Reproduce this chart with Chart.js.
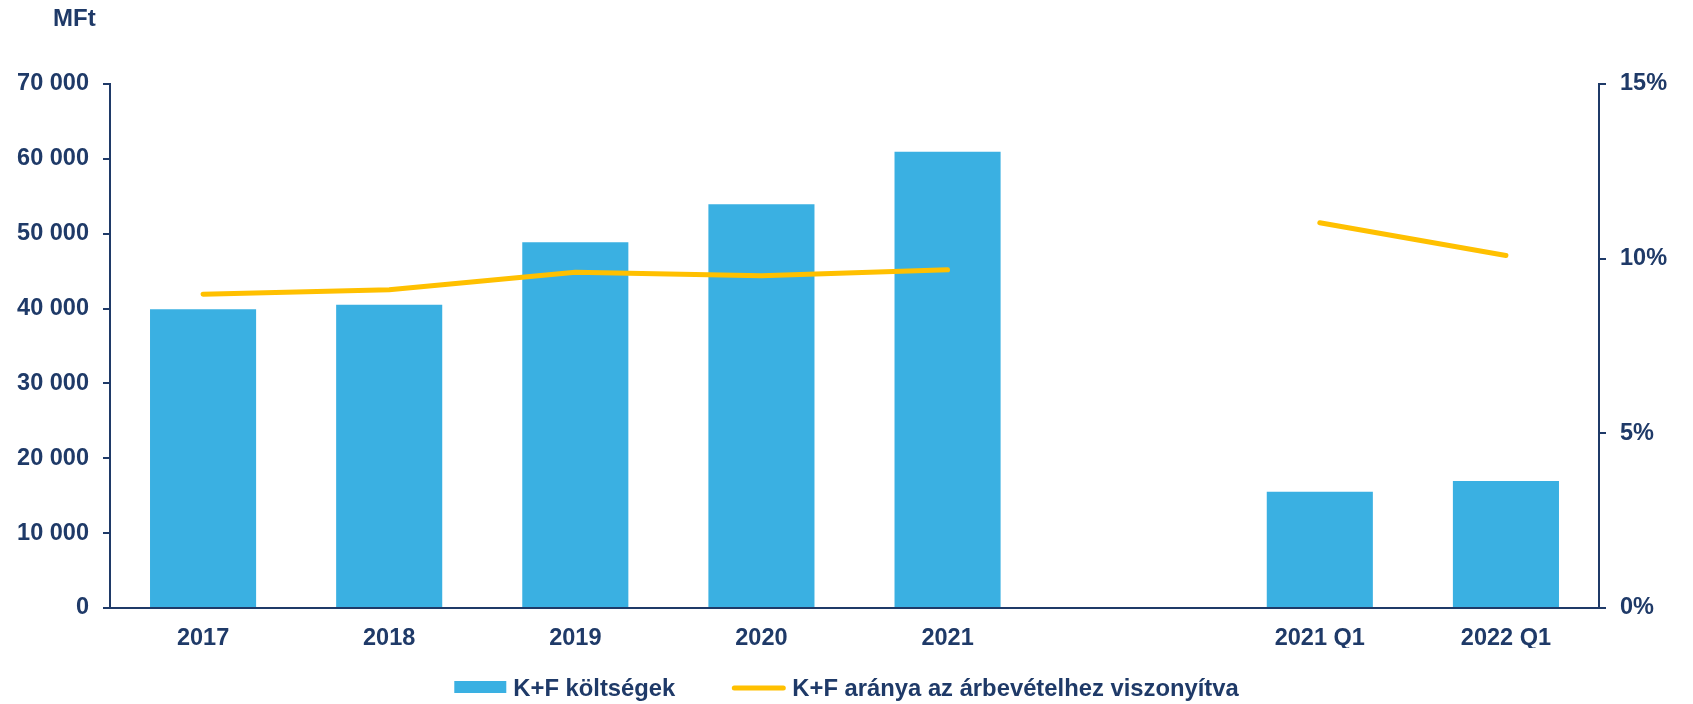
<!DOCTYPE html>
<html>
<head>
<meta charset="utf-8">
<script src="https://cdn.jsdelivr.net/npm/chart.js@4"></script>
<style>
  html, body { margin: 0; padding: 0; background: #fff; }
  #wrap { width: 1693px; height: 704px; position: relative; }
</style>
</head>
<body>
<div id="wrap"><canvas id="myChart"></canvas></div>
<script>
// data
const categories = ['2017', '2018', '2019', '2020', '2021', '', '2021 Q1', '2022 Q1'];
const kfCosts = [39900, 40500, 48850, 53930, 60950, null, 15540, 16960];   // MFt
const kfRatio = [8.98, 9.11, 9.61, 9.51, 9.68, null, 11.03, 10.09];        // %
const leftTicks = [0, 10000, 20000, 30000, 40000, 50000, 60000, 70000];
const rightTicks = [0, 5, 10, 15];
const unitLabel = 'MFt';

const navy = '#1F3A68';
const barBlue = '#3AB0E2';
const gold = '#FFC000';
const fontFamily = '"Liberation Sans", Arial, sans-serif';

const fmtThousands = v => String(v).replace(/\B(?=(\d{3})+(?!\d))/g, ' ');

// unit label above the left axis + custom legend under the chart
const extras = {
    id: 'extras',
    afterDraw(chart) {
        const ctx = chart.ctx;
        const area = chart.chartArea;
        ctx.save();
        ctx.fillStyle = navy;
        ctx.textBaseline = 'alphabetic';
        ctx.font = 'bold 24px ' + fontFamily;
        ctx.textAlign = 'left';
        ctx.fillText(unitLabel, area.left - 57, 26);

        // legend
        ctx.font = 'bold 23.8px ' + fontFamily;
        const ds = chart.data.datasets;
        const barLabel = ds[1].label, lineLabel = ds[0].label;
        const w1 = ctx.measureText(barLabel).width;
        const w2 = ctx.measureText(lineLabel).width;
        const total = 52 + 7 + w1 + 57 + 53 + 7 + w2;
        let x = chart.width / 2 - total / 2;
        const base = 696;
        ctx.fillStyle = ds[1].backgroundColor;
        ctx.fillRect(x, 681, 52, 12);
        x += 59;
        ctx.fillStyle = navy;
        ctx.fillText(barLabel, x, base);
        x += w1 + 57;
        ctx.strokeStyle = ds[0].borderColor;
        ctx.lineWidth = 5;
        ctx.lineCap = 'round';
        ctx.beginPath();
        ctx.moveTo(x + 2, 688);
        ctx.lineTo(x + 51, 688);
        ctx.stroke();
        x += 60;
        ctx.fillText(lineLabel, x, base);
        ctx.restore();
    }
};

const data = {
    labels: categories,
    datasets: [{
        type: 'line',
        label: 'K+F aránya az árbevételhez viszonyítva',
        data: kfRatio,
        yAxisID: 'y1',
        borderColor: gold,
        backgroundColor: gold,
        borderWidth: 5,
        borderCapStyle: 'round',
        borderJoinStyle: 'round',
        pointRadius: 0,
        spanGaps: false,
        tension: 0,
        order: 0
    }, {
        type: 'bar',
        label: 'K+F költségek',
        data: kfCosts,
        yAxisID: 'y',
        backgroundColor: barBlue,
        borderWidth: 0,
        categoryPercentage: 1,
        barPercentage: 0.57,
        order: 1
    }]
};

const config = {
    data,
    options: {
        responsive: true,
        maintainAspectRatio: false,
        animation: false,
        layout: { padding: { top: 84, bottom: 56, left: 0, right: 0 } },
        plugins: {
            legend: { display: false },
            tooltip: { enabled: false }
        },
        scales: {
            x: {
                grid: { display: true, drawOnChartArea: false, drawTicks: false },
                border: { display: true, color: navy, width: 2 },
                ticks: {
                    color: navy,
                    font: { family: fontFamily, size: 23.5, weight: 'bold' },
                    padding: 16,
                    maxRotation: 0,
                    autoSkip: false
                },
                afterFit(scale) { scale.height = 40; }
            },
            y: {
                position: 'left',
                min: 0,
                max: 70000,
                afterBuildTicks(scale) { scale.ticks = leftTicks.map(v => ({ value: v })); },
                grid: { display: true, drawOnChartArea: false, drawTicks: true, tickLength: 7, color: navy, lineWidth: 2 },
                border: { display: true, color: navy, width: 2 },
                ticks: {
                    color: navy,
                    font: { family: fontFamily, size: 23.5, weight: 'bold' },
                    padding: 14,
                    callback: v => fmtThousands(v)
                },
                afterFit(scale) { scale.width = 110; }
            },
            y1: {
                position: 'right',
                min: 0,
                max: 15,
                afterBuildTicks(scale) { scale.ticks = rightTicks.map(v => ({ value: v })); },
                grid: { display: true, drawOnChartArea: false, drawTicks: true, tickLength: 7, color: navy, lineWidth: 2 },
                border: { display: true, color: navy, width: 2 },
                ticks: {
                    color: navy,
                    font: { family: fontFamily, size: 23.5, weight: 'bold' },
                    padding: 14,
                    callback: v => v + '%'
                },
                afterFit(scale) { scale.width = 94; }
            }
        }
    },
    plugins: [extras]
};

const myChart = new Chart(document.getElementById('myChart'), config);
</script>
</body>
</html>
